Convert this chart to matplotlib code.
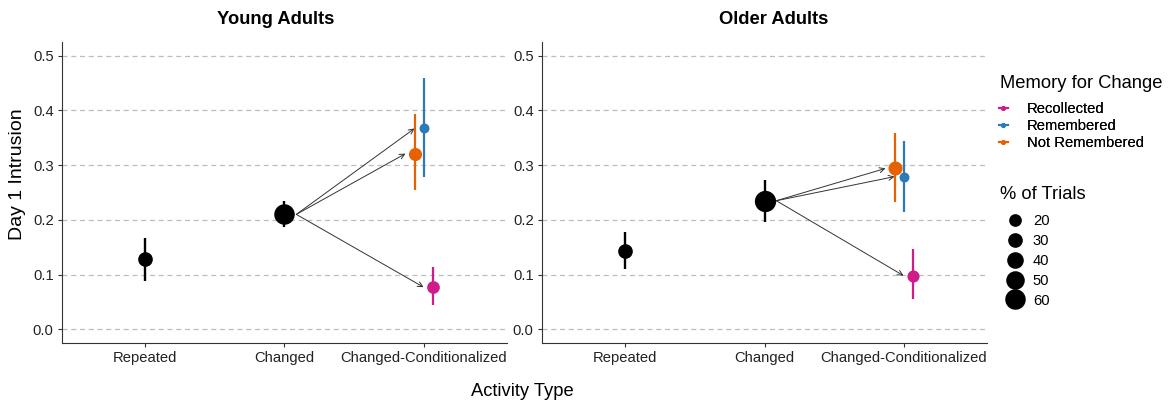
import matplotlib
matplotlib.use("Agg")
import matplotlib.pyplot as plt
from matplotlib.lines import Line2D

plt.rcParams["font.family"] = ["Liberation Sans", "DejaVu Sans"]

W, H = 1170, 407

CATEGORIES = ["Repeated", "Changed", "Changed-Conditionalized"]
MEMORY = ["Recollected", "Remembered", "Not Remembered"]
MEMORY_COLORS = ["#D01C8B", "#2C7BB6", "#E66101"]
DODGE = [0.065, 0.0, -0.065]
SIZE_BREAKS = [20, 30, 40, 50, 60]

# Repeated, Changed
young_base_mean = [0.128, 0.210]
young_base_lo = [0.089, 0.187]
young_base_hi = [0.166, 0.235]
young_base_pct = [30, 60]
# Recollected, Remembered, Not Remembered
young_cond_mean = [0.077, 0.367, 0.321]
young_cond_lo = [0.044, 0.279, 0.254]
young_cond_hi = [0.113, 0.460, 0.394]
young_cond_pct = [20, 6, 22]

old_base_mean = [0.143, 0.235]
old_base_lo = [0.110, 0.197]
old_base_hi = [0.178, 0.272]
old_base_pct = [30, 64]
old_cond_mean = [0.098, 0.279, 0.294]
old_cond_lo = [0.055, 0.215, 0.232]
old_cond_hi = [0.146, 0.345, 0.358]
old_cond_pct = [17, 6, 27]


def msize(pct):
    # diameter in points
    return 0.72 * (8.8 + 0.195 * pct)


def fx(px):
    return px / W


def fy(py):
    return 1 - py / H


def draw_panel(ax, bmean, blo, bhi, bpct, cmean, clo, chi, cpct):
    ax.set_xlim(0.4, 3.6)
    ax.set_ylim(-0.025, 0.525)
    ticks = [0.0, 0.1, 0.2, 0.3, 0.4, 0.5]
    ax.set_yticks(ticks)
    ax.set_yticklabels([f"{v:.1f}" for v in ticks])
    ax.set_xticks([1, 2, 3])
    ax.set_xticklabels(CATEGORIES)
    ax.yaxis.grid(True, linestyle=(0, (4, 3)), color="#BEBEBE", linewidth=0.9)
    ax.set_axisbelow(True)
    for s in ["top", "right"]:
        ax.spines[s].set_visible(False)
    for s in ["left", "bottom"]:
        ax.spines[s].set_linewidth(0.8)
        ax.spines[s].set_color("#333333")
    ax.tick_params(axis="both", labelsize=10.6, labelcolor="#222222", length=3,
                   width=0.8, color="#333333", pad=3)

    # arrows from Changed to each conditionalized point
    for i in range(3):
        ax.annotate("", xy=(3 + DODGE[i] - 0.065, cmean[i]), xytext=(2.085, bmean[1]),
                    arrowprops=dict(arrowstyle="->", color="#333333", lw=0.7,
                                    shrinkA=0, shrinkB=0, mutation_scale=9))

    for i in range(2):
        x = i + 1
        ax.plot([x, x], [blo[i], bhi[i]], color="black", lw=1.7, solid_capstyle="butt", zorder=3)
        ax.plot(x, bmean[i], "o", color="black", ms=msize(bpct[i]), mec="none", zorder=4)

    for i in range(3):
        x = 3 + DODGE[i]
        ax.plot([x, x], [clo[i], chi[i]], color=MEMORY_COLORS[i], lw=1.6,
                solid_capstyle="butt", zorder=3)
        ax.plot(x, cmean[i], "o", color=MEMORY_COLORS[i], ms=msize(cpct[i]),
                mec="none", zorder=4)


def main():
    fig = plt.figure(figsize=(W / 100, H / 100), dpi=100)
    ax1 = fig.add_axes([fx(62), fy(343), 445 / W, 301 / H])
    ax2 = fig.add_axes([fx(542), fy(343), 445 / W, 301 / H])

    draw_panel(ax1, young_base_mean, young_base_lo, young_base_hi, young_base_pct,
               young_cond_mean, young_cond_lo, young_cond_hi, young_cond_pct)
    draw_panel(ax2, old_base_mean, old_base_lo, old_base_hi, old_base_pct,
               old_cond_mean, old_cond_lo, old_cond_hi, old_cond_pct)

    fig.text(fx(276), fy(19), "Young Adults", fontsize=13.2, fontweight="bold",
             ha="center", va="center")
    fig.text(fx(774), fy(19), "Older Adults", fontsize=13.2, fontweight="bold",
             ha="center", va="center")

    fig.text(fx(18), fy(174), "Day 1 Intrusion", fontsize=14, rotation=90,
             ha="center", va="center")
    fig.text(fx(522), fy(392), "Activity Type", fontsize=13.2,
             ha="center", va="center")

    # legend: Memory for Change
    fig.text(fx(1000), fy(83), "Memory for Change", fontsize=13.2,
             ha="left", va="center")
    color_handles = [Line2D([0], [0], color=c, lw=1.5, marker="o", ms=2.5)
                     for c in MEMORY_COLORS]
    leg1 = fig.legend(color_handles, MEMORY,
                      loc="upper left", bbox_to_anchor=(fx(999), fy(102)),
                      frameon=False, fontsize=10.6,
                      handlelength=0.6, handletextpad=1.3, labelspacing=0.2,
                      borderaxespad=0, borderpad=0)
    fig.add_artist(leg1)

    # legend: % of Trials
    fig.text(fx(1000), fy(194), "% of Trials", fontsize=13.2,
             ha="left", va="center")
    size_handles = [Line2D([0], [0], ls="none", marker="o", color="black",
                           ms=msize(p), mec="none") for p in SIZE_BREAKS]
    fig.legend(size_handles, [str(p) for p in SIZE_BREAKS],
               loc="upper left", bbox_to_anchor=(fx(1002), fy(214)),
               frameon=False, fontsize=10.6,
               handlelength=1.7, handletextpad=0.4, labelspacing=0.4,
               borderaxespad=0, borderpad=0)

    fig.savefig("out.png", dpi=100)


if __name__ == "__main__":
    main()
